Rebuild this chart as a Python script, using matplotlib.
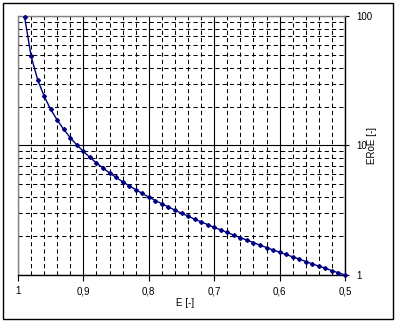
import matplotlib
matplotlib.use("Agg")
import matplotlib.pyplot as plt
from matplotlib.ticker import FixedLocator, NullFormatter
from matplotlib.patches import Rectangle

plt.rcParams['font.family'] = ['Liberation Sans', 'DejaVu Sans']

E = [0.99, 0.98, 0.97, 0.96, 0.95, 0.94, 0.93, 0.92, 0.91, 0.90,
     0.89, 0.88, 0.87, 0.86, 0.85, 0.84, 0.83, 0.82, 0.81, 0.80,
     0.79, 0.78, 0.77, 0.76, 0.75, 0.74, 0.73, 0.72, 0.71, 0.70,
     0.69, 0.68, 0.67, 0.66, 0.65, 0.64, 0.63, 0.62, 0.61, 0.60,
     0.59, 0.58, 0.57, 0.56, 0.55, 0.54, 0.53, 0.52, 0.51, 0.50]
EROE = [99, 49, 32.3, 24, 19, 15.7, 13.3, 11.5, 10.1, 9.0,
        8.09, 7.33, 6.69, 6.14, 5.67, 5.25, 4.88, 4.56, 4.26, 4.0,
        3.76, 3.55, 3.35, 3.17, 3.0, 2.85, 2.70, 2.57, 2.45, 2.33,
        2.23, 2.13, 2.03, 1.94, 1.86, 1.78, 1.70, 1.63, 1.56, 1.50,
        1.44, 1.38, 1.33, 1.27, 1.22, 1.17, 1.13, 1.08, 1.04, 1.00]

x_ticks = [1.0, 0.9, 0.8, 0.7, 0.6, 0.5]
x_tick_labels = ["1", "0,9", "0,8", "0,7", "0,6", "0,5"]
y_ticks = [1, 10, 100]
y_tick_labels = ["1", "10", "100"]

W, H = 397, 323
fig = plt.figure(figsize=(W / 100, H / 100), dpi=100)
fig.patch.set_facecolor('white')

# outer frame
fig.patches.append(Rectangle((3 / W, 1 - 319 / H), 390 / W, 316 / H,
                             transform=fig.transFigure, fill=False,
                             edgecolor='black', linewidth=1.0))

ax = fig.add_axes([18 / W, 1 - 275 / H, (345 - 18) / W, (275 - 16) / H])
ax.set_yscale('log')
ax.set_xlim(1.0, 0.5)
ax.set_ylim(1, 100)

xminor = [round(1.0 - 0.02 * i, 2) for i in range(1, 25) if i % 5 != 0]
yminor = [v * d for d in (1, 10) for v in range(2, 10)]
ax.xaxis.set_minor_locator(FixedLocator(xminor))
ax.yaxis.set_minor_locator(FixedLocator(yminor))
ax.xaxis.set_minor_formatter(NullFormatter())
ax.yaxis.set_minor_formatter(NullFormatter())
ax.xaxis.set_major_locator(FixedLocator(x_ticks))
ax.yaxis.set_major_locator(FixedLocator(y_ticks))
ax.set_xticklabels(x_tick_labels)
ax.set_yticklabels(y_tick_labels)

ax.grid(which='minor', color='black', linestyle=(0, (4, 3)), linewidth=0.75)
ax.grid(which='major', color='black', linestyle='-', linewidth=0.8)
ax.set_axisbelow(True)

ax.yaxis.tick_right()
ax.tick_params(axis='y', which='major', direction='out', length=3, width=0.8,
               labelsize=7, pad=5, right=True, left=False)
ax.tick_params(axis='x', which='major', direction='out', length=4, width=0.8,
               labelsize=7, pad=4)
ax.tick_params(which='minor', length=0)

for s in ('left', 'top'):
    ax.spines[s].set_color('#808080')
    ax.spines[s].set_linewidth(1.0)
for s in ('right', 'bottom'):
    ax.spines[s].set_color('black')
    ax.spines[s].set_linewidth(1.0)

ax.plot(E, EROE, color='#000080', linewidth=1.0, marker='D', markersize=2.0,
        clip_on=False, zorder=5)

fig.text(185 / W, 1 - 303 / H, "E [-]", ha='center', va='center', fontsize=7)
fig.text(372 / W, 1 - 145 / H, "ERoE [-]", ha='center', va='center',
         fontsize=7, rotation=90)

fig.savefig("out.png", dpi=100)
